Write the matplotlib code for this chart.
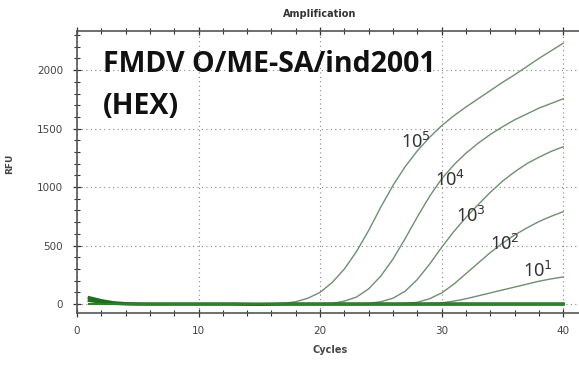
import matplotlib
matplotlib.use("Agg")
import matplotlib.pyplot as plt
from matplotlib.ticker import MultipleLocator

cycles = list(range(1, 41))

# 10^5
s5 = [40, 20, 8, 2, 0, 0, 0, 0, 0, 0, 0, 0, 0, 0, 0, 2,
      5, 20, 50, 100, 185, 300, 450, 630, 830, 1015, 1175, 1310, 1425, 1525,
      1610, 1685, 1755, 1825, 1895, 1960, 2030, 2100, 2165, 2230]
# 10^4
s4 = [40, 20, 8, 2, 0, 0, 0, 0, 0, 0, 0, 0, 0, 0, 0, 0,
      0, 0, 0, 2, 5, 25, 60, 130, 240, 385, 560, 745, 920, 1070,
      1190, 1290, 1375, 1450, 1515, 1575, 1625, 1675, 1715, 1755]
# 10^3
s3 = [40, 20, 8, 2, 0, 0, 0, 0, 0, 0, 0, 0, 0, 0, 0, 0,
      0, 0, 0, 0, 0, 0, 2, 5, 20, 50, 110, 210, 340, 485,
      620, 740, 850, 955, 1050, 1130, 1200, 1255, 1305, 1345]
# 10^2
s2 = [40, 20, 8, 2, 0, 0, 0, 0, 0, 0, 0, 0, 0, 0, 0, 0,
      0, 0, 0, 0, 0, 0, 0, 0, 0, 2, 5, 15, 45, 95,
      170, 260, 350, 440, 520, 590, 650, 705, 750, 790]
# 10^1
s1 = [40, 20, 8, 2, 0, 0, 0, 0, 0, 0, 0, 0, 0, 0, 0, 0,
      0, 0, 0, 0, 0, 0, 0, 0, 0, 0, 0, 2, 5, 10,
      25, 45, 70, 95, 120, 145, 170, 195, 215, 232]
# negative / baseline traces
ntc_a = [55, 30, 12, 4, 1, 0, 0, 0, 0, 0, 0, 0, 0, -3, -4, -2,
         0, 0, 0, 0, 0, 0, 0, 0, 0, 0, 0, 0, 0, 0,
         0, 0, 0, 0, 0, 0, 0, 0, 0, 0]
ntc_b = [30, 15, 5, 1, 0, 0, 0, 0, 0, 0, 0, 0, 0, 0, 0, 0,
         0, 0, 0, 0, 0, 0, 0, 0, 0, 0, 0, 0, 0, 0,
         0, 0, 0, 0, 0, 0, 0, 0, 0, 0]

labels = ["10$^5$", "10$^4$", "10$^3$", "10$^2$", "10$^1$"]
label_x = [27.9, 30.7, 32.4, 35.2, 37.9]
label_y = [1385, 1060, 752, 513, 282]

fig = plt.figure(figsize=(5.79, 3.67), dpi=100)
ax = fig.add_axes([0.133, 0.147, 0.867, 0.768])

curve_color = "#6f8f6f"
for s in [s5, s4, s3, s2, s1]:
    ax.plot(cycles, s, color=curve_color, lw=1.0, zorder=3)
for s in [ntc_a, ntc_b]:
    ax.plot(cycles, s, color="#1e6e1e", lw=2.2, zorder=4)
ax.plot(cycles, [0] * len(cycles), color="#2f7f2f", lw=1.5, zorder=4)

ax.set_xlim(0, 41.3)
ax.set_ylim(-77, 2333)
ax.xaxis.set_major_locator(MultipleLocator(10))
ax.xaxis.set_minor_locator(MultipleLocator(2))
ax.yaxis.set_major_locator(MultipleLocator(500))
ax.yaxis.set_minor_locator(MultipleLocator(100))
ax.tick_params(which="major", direction="inout", length=6, width=0.9,
               color="#333333", labelsize=7.5, labelcolor="#444444", top=True)
ax.tick_params(which="minor", direction="inout", length=4, width=0.8,
               color="#333333", top=True)
ax.tick_params(axis="x", pad=6)
ax.tick_params(axis="y", pad=7)
ax.grid(True, which="major", linestyle=(0, (1, 3)), color="#888888", lw=0.8)
ax.spines["right"].set_visible(False)
for sp in ["left", "bottom", "top"]:
    ax.spines[sp].set_color("#555555")
    ax.spines[sp].set_linewidth(1.2)

ax.set_title("Amplification", fontsize=7, fontweight="bold", color="#333333", pad=10,
             x=(320 - 77) / (579 - 77))
ax.set_xlabel("Cycles", fontsize=7, fontweight="bold", color="#444444")
ax.xaxis.set_label_coords((330 - 77) / (579 - 77), -0.115)
ax.set_ylabel("RFU", fontsize=6.5, fontweight="bold", color="#444444")
ax.yaxis.set_label_coords(-0.125, 0.53)

ax.text(2.1, 2050, "FMDV O/ME-SA/ind2001", fontsize=20.5, fontweight="bold",
        family="Open Sans", color="#111111", va="center", ha="left", zorder=5)
ax.text(2.1, 1690, "(HEX)", fontsize=20.5, fontweight="bold",
        family="Open Sans", color="#111111", va="center", ha="left", zorder=5)

for lab, lx, ly in zip(labels, label_x, label_y):
    ax.text(lx, ly, lab, fontsize=13, color="#333333", ha="center", va="center",
            family="Noto Sans", zorder=5)

fig.savefig("out.png", dpi=100)
